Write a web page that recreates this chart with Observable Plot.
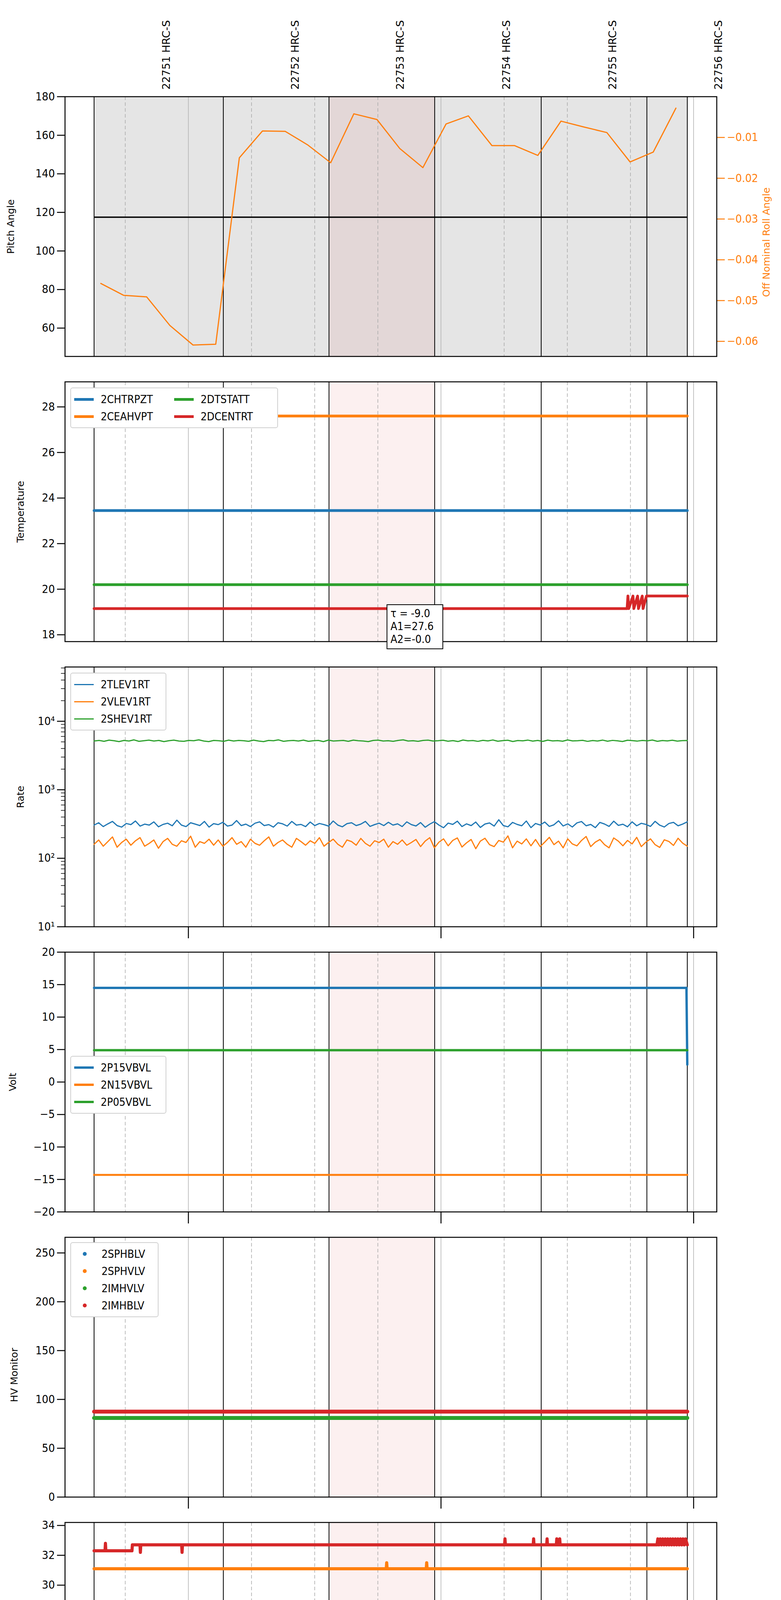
<!DOCTYPE html>
<html><head><meta charset="utf-8">
<script src="https://cdn.jsdelivr.net/npm/d3@7"></script>
<script src="https://cdn.jsdelivr.net/npm/@observablehq/plot@0.6"></script>
<style>
html,body{margin:0;background:#fff;width:2000px;height:5400px;overflow:hidden;}
#wrap{position:relative;width:2000px;height:5400px;overflow:hidden;font-family:"DejaVu Sans Condensed","Liberation Sans Narrow","DejaVu Sans",sans-serif;}
.pl{position:absolute;left:0;overflow:visible;}
.lbl{position:absolute;font-family:"DejaVu Sans",sans-serif;font-size:25px;white-space:nowrap;}
.leg{position:absolute;background:#fff;border:2px solid #d0d0d0;border-radius:6px;font-size:28px;padding:6px 8px;box-sizing:border-box;}
.li{display:flex;align-items:center;height:44px;}
.sw{width:50px;margin-right:18px;}
.dot{width:10px;height:10px;border-radius:50%;margin:0 38px 0 22px;}
</style></head>
<body><div id="wrap"></div>
<script>
// ---- time in minutes after 09:00 UTC, 2020-11-02 ----
const xDomain = [30.7, 185.5];
const obsBounds = [37.6, 68.3, 93.4, 118.5, 143.8, 168.9, 178.5];
const obsLabels = ["22751 HRC-S","22752 HRC-S","22753 HRC-S","22754 HRC-S","22755 HRC-S","22756 HRC-S"];
const obsLabelPos = [53.8, 84.4, 109.4, 134.6, 159.8, 185.0];
const hourTicks = [60, 120, 180];
const hourLabels = ["10h","11h","12h"];
const minorTicks = [45, 75, 90, 105, 135, 150, 165];
const minorLabels = ["45","15","30","45","15","30","45"];

// Panel 1
const pitchLevel = 117.5;
const rollT = [39.2,44.6,50.1,55.6,61.1,66.5,72.1,77.6,83.0,88.3,93.8,99.3,104.8,110.2,115.7,121.2,126.5,132.1,137.5,143.0,148.5,153.8,159.4,164.9,170.4,175.8];
const rollV = [-0.0458,-0.0487,-0.0491,-0.0561,-0.0609,-0.0607,-0.0150,-0.0084,-0.0085,-0.0118,-0.0162,-0.0042,-0.0056,-0.0127,-0.0174,-0.0067,-0.0047,-0.0120,-0.0120,-0.0144,-0.0060,-0.0074,-0.0088,-0.0160,-0.0136,-0.0028];
const rollTicks = [-0.01,-0.02,-0.03,-0.04,-0.05,-0.06];

// Panel 2 Temperature
const tempNames = ["2CHTRPZT","2CEAHVPT","2DTSTATT","2DCENTRT"];
const t2CHTRPZT = [[37.6,23.45],[178.5,23.45]];
const t2CEAHVPT = [[37.6,27.6],[178.5,27.6]];
const t2DTSTATT = [[37.6,20.2],[178.5,20.2]];
const t2DCENTRT = [[37.6,19.15],[164.2,19.15],[164.4,19.7],[164.6,19.15],[165.6,19.7],[165.8,19.15],[166.7,19.7],[166.9,19.15],[167.8,19.7],[168.0,19.15],[168.8,19.7],[178.5,19.7]];

// Panel 3 Rate (samples evenly spaced from 37.6 to 178.5)
const rateNames = ["2TLEV1RT","2VLEV1RT","2SHEV1RT"];
const r2TLEV1RT = [305,330,290,318,345,300,285,322,310,350,295,315,305,340,288,312,325,298,360,305,290,330,315,300,345,285,320,310,335,295,305,355,300,315,290,325,340,300,310,285,330,318,295,345,305,312,290,338,300,322,310,295,350,305,288,320,330,300,315,345,292,310,325,300,335,305,318,290,340,310,
  296,332,284,315,342,305,279,326,312,348,290,318,300,338,282,316,328,295,365,300,288,334,312,298,350,280,322,306,338,292,308,352,296,318,286,328,344,298,312,280,334,316,292,348,302,314,288,340,298,324,312,292,346,304,286,322,334,298,316,340];
const r2VLEV1RT = [160,185,150,175,205,145,170,190,155,180,200,150,165,185,140,175,195,160,150,180,170,210,145,175,165,190,155,185,150,170,200,160,175,145,190,165,155,180,205,150,170,185,160,145,195,175,155,180,165,200,150,170,190,160,145,185,175,155,195,165,150,180,170,190,145,175,160,185,155,170,
  188,148,178,200,142,172,192,152,182,198,146,168,188,138,178,196,158,148,182,172,212,142,178,162,192,152,188,148,172,202,158,178,142,192,162,152,182,208,148,172,188,158,142,198,178,152,182,162,202,148,172,192,158,144,186,176,154,196,166,150];
const r2SHEV1RT = [5150,5250,5100,5300,5200,5050,5250,5150,5350,5100,5200,5300,5150,5250,5050,5200,5300,5150,5100,5250,5200,5350,5150,5050,5250,5200,5100,5300,5150,5250,5200,5100,5300,5150,5050,5250,5200,5350,5100,5200,5250,5150,5300,5100,5200,5250,5050,5300,5150,5200,5250,5100,5300,5200,5150,5050,5250,5300,5150,5200,5100,5250,5350,5150,5200,5100,5250,5300,5150,5200,
  5280,5120,5220,5060,5320,5180,5240,5090,5270,5160,5330,5110,5210,5290,5070,5230,5190,5310,5130,5250,5080,5300,5170,5220,5120,5340,5160,5200,5270,5090,5230,5150,5310,5110,5260,5180,5060,5290,5210,5140,5250,5190,5320,5100,5230,5170,5280,5130,5210,5240];

// Panel 4 Volt
const voltNames = ["2P15VBVL","2N15VBVL","2P05VBVL"];
const v2P15VBVL = [[37.6,14.5],[178.3,14.5],[178.5,2.7]];
const v2N15VBVL = [[37.6,-14.3],[178.5,-14.3]];
const v2P05VBVL = [[37.6,4.9],[178.5,4.9]];

// Panel 5 HV monitor
const hvNames = ["2SPHBLV","2SPHVLV","2IMHVLV","2IMHBLV"];
const h2IMHVLV = [[37.6,81],[178.5,81]];
const h2IMHBLV = [[37.6,87.5],[178.5,87.5]];

// Panel 6 Detector temp
const detNames = ["2SPINATM","2SPHVATM","2IMINATM","2IMHVATM"];
const d2SPINATM = [[37.6,18.28],[178.5,18.28]];
const d2SPHVATM = [[37.6,31.1],[107.0,31.1],[107.1,31.5],[107.2,31.1],[116.5,31.1],[116.6,31.5],[116.7,31.1],[178.5,31.1]];
const d2IMINATM = [[37.6,19.6],[51.3,19.6],[51.4,20.3],[51.5,19.6],[58.7,19.6],[58.8,20.3],[58.9,19.6],[60.9,19.6],[61.0,20.3],[61.1,19.6],[62.7,19.6],[62.8,20.3],[63.3,19.6],[63.6,20.3],[64.0,19.6],[64.3,20.3],[64.7,19.6],[65.0,20.3],[65.4,19.6],[65.8,20.3],[66.2,19.6],[66.6,20.3],[67.1,19.6],[67.5,20.3],[68.0,19.6],[68.5,20.3],[69.1,19.6],[69.6,20.3],[70.3,19.6],[70.9,20.3],[72.0,19.6],[72.6,20.3],[74.6,19.6],[74.9,20.3],[75.4,19.6],[75.7,20.3],[178.5,20.3]];
const d2IMHVATM = [[37.6,32.3],[40.2,32.3],[40.3,32.8],[40.4,32.3],[46.6,32.3],[46.7,32.7],[48.5,32.7],[48.6,32.2],[48.7,32.7],[58.4,32.7],[58.5,32.2],[58.6,32.7],[135.1,32.7],[135.2,33.1],[135.3,32.7],[141.9,32.7],[142.0,33.1],[142.1,32.7],[145.1,32.7],[145.2,33.1],[145.3,32.7],[147.4,32.7],[147.5,33.1],[147.6,32.7],[148.1,32.7],[148.2,33.1],[148.3,32.7],[171.3,32.7],[171.5,33.1],[171.8,32.7],[172.1,33.1],[172.4,32.7],[172.7,33.1],[173.0,32.7],[173.3,33.1],[173.6,32.7],[173.9,33.1],[174.2,32.7],[174.5,33.1],[174.8,32.7],[175.1,33.1],[175.4,32.7],[175.7,33.1],[176.0,32.7],[176.3,33.1],[176.6,32.7],[176.9,33.1],[177.2,32.7],[177.5,33.1],[177.8,32.7],[178.1,33.1],[178.5,32.7]];

// Panel 7 FEA temp
const feaNames = ["2FHTRMZT","2FRADPYT","2FEPRATM","2FE00ATM"];
const f2FHTRMZT = [[37.6,22.92],[37.8,23.5],[38.1,22.92],[38.4,23.5],[38.7,22.92],[39.0,23.5],[39.3,22.92],[39.6,23.5],[39.9,22.92],[40.2,23.5],[40.5,22.92],[178.5,22.92]];
const f2FRADPYT = [[37.6,18.65],[137.8,18.65],[137.9,18.15],[138.0,18.65],[141.6,18.65],[141.7,18.15],[141.8,18.65],[145.6,18.65],[145.8,18.15],[146.4,18.65],[146.8,18.15],[147.2,18.65],[147.4,18.15],[151.7,18.15],[151.8,18.65],[151.9,18.15],[178.5,18.15]];
const f2FEPRATM = [[37.6,24.62],[178.5,24.62]];
const f2FE00ATM = [[37.6,22.98],[41.7,22.98],[41.8,22.3],[41.9,22.98],[48.0,22.98],[48.1,23.3],[48.2,22.98],[58.9,22.98],[59.0,22.3],[59.1,22.98],[64.1,22.98],[64.2,22.0],[64.3,22.98],[67.0,22.98],[67.1,21.4],[67.2,22.98],[67.6,22.98],[67.7,23.3],[67.8,22.98],[68.8,22.98],[68.9,22.65],[69.0,22.98],[70.0,22.98],[70.1,22.65],[70.2,22.98],[74.3,22.98],[74.4,22.65],[74.5,22.98],[75.3,22.98],[75.4,22.65],[75.5,22.98],[80.1,22.98],[80.2,22.65],[80.3,22.98],[86.3,22.98],[86.4,21.7],[86.5,22.98],[87.8,22.98],[87.9,22.65],[88.0,22.98],[113.2,22.98],[113.3,22.65],[113.4,22.98],[117.5,22.98],[117.8,22.65],[118.1,22.98],[118.4,22.65],[118.7,22.98],[119.0,22.65],[119.3,22.98],[119.6,22.65],[119.9,22.98],[120.2,22.65],[120.5,22.98],[120.8,22.65],[121.1,22.98],[121.4,22.65],[121.7,22.98],[122.0,22.65],[122.3,22.98],[122.6,22.65],[122.9,22.98],[123.2,22.65],[123.5,22.98],[123.8,22.65],[124.1,22.98],[124.4,22.65],[124.7,22.98],[125.0,22.65],[125.3,22.98],[125.6,22.65],[125.9,22.98],[126.2,22.65],[126.5,22.98],[126.8,22.65],[127.1,22.98],[127.4,22.65],[127.7,22.98],[128.0,22.65],[128.3,22.98],[128.6,22.65],[128.9,22.98],[129.2,22.65],[129.5,22.98],[129.8,22.65],[130.1,22.98],[130.4,22.65],[130.7,22.98],[131.0,22.65],[131.6,22.98],[131.9,22.65],[132.5,22.98],[132.8,22.65],[133.3,22.98],[133.5,22.65],[137.0,22.65],[137.1,23.6],[137.2,22.65],[140.3,22.65],[140.4,22.3],[140.5,22.65],[145.7,22.65],[145.8,23.3],[145.9,22.65],[152.8,22.65],[152.9,23.0],[153.0,22.65],[162.2,22.65],[162.3,22.3],[162.4,22.65],[162.9,22.65],[163.0,23.0],[163.1,22.65],[168.9,22.65],[169.0,23.0],[169.1,22.65],[170.0,22.65],[170.1,22.3],[170.2,22.65],[175.4,22.65],[175.5,23.6],[175.6,22.65],[175.9,22.65],[176.0,23.3],[176.1,22.65],[178.5,22.65]];

const colors = ["#1f77b4","#ff7f0e","#2ca02c","#d62728"];

// ---- helpers ----
const base = Date.UTC(2020,10,2,9,0,0);
const tm = m => new Date(base + m*60000);
const pts = (arr) => arr.map(([t,v]) => ({t: tm(t), v}));
const even = (vals) => vals.map((v,i) => ({t: tm(37.6 + i*(178.5-37.6)/(vals.length-1)), v}));
const wrap = document.getElementById("wrap");
const PH = 665, PITCH = 730, TOP0 = 247;
const panelTop = i => TOP0 + PITCH*i;
const FONT = '"DejaVu Sans Condensed","Liberation Sans Narrow","DejaVu Sans",sans-serif';
const minPerPx = (xDomain[1]-xDomain[0])/(2000-166-165);

// y value that lies px pixels below the bottom of the frame
function yBelow(o, px){
  const [a,b] = o.ydomain;
  if (o.ytype === "log"){ const la=Math.log10(a), lb=Math.log10(b); return Math.pow(10, la - (lb-la)*px/PH); }
  return a - (b-a)*px/PH;
}
function bgMarks(grey){
  const m = [];
  if (grey) m.push(Plot.rectX([0],{x1:()=>tm(obsBounds[0]),x2:()=>tm(obsBounds[6]),fill:"#e5e5e5"}));
  m.push(Plot.rectX([0],{x1:()=>tm(obsBounds[2]),x2:()=>tm(obsBounds[3]),fill:"#d62728",fillOpacity:0.07}));
  m.push(Plot.ruleX(hourTicks.map(tm),{stroke:"#b0b0b0",strokeWidth:1.5}));
  m.push(Plot.ruleX(minorTicks.map(tm),{stroke:"#a8a8a8",strokeWidth:1.5,strokeDasharray:"9,6"}));
  m.push(Plot.ruleX(obsBounds.map(tm),{stroke:"#000",strokeWidth:2}));
  return m;
}
function makePanel(i, o){
  const mt = i===0 ? TOP0 : 30;
  const mb = i===6 ? (5400 - panelTop(6) - PH) : (PITCH-PH-30);
  const marks = [
    ...bgMarks(o.grey),
    ...o.marks,
    Plot.axisY({ticks:o.yticks, tickFormat:o.yfmt, tickSize:20, tickPadding:6, strokeWidth:2.5, fontSize:29, label:null}),
    ...(o.extraAxes||[]),
    Plot.frame({stroke:"#000",strokeWidth:2.5})
  ];
  if (o.hourTicks) marks.push(Plot.ruleX(hourTicks.map(tm),{y1:o.ydomain[0], y2:yBelow(o,30), stroke:"#000", strokeWidth:2.5, clip:false}));
  if (i===6){
    marks.push(Plot.axisX({ticks:minorTicks.map(tm), tickSize:12, strokeWidth:2, tickPadding:10, fontSize:21, tickFormat:(d,k)=>minorLabels[k], label:null}));
  }
  const p = Plot.plot({
    width:2000, height: mt + PH + mb,
    marginTop: mt, marginBottom: mb, marginLeft: 166, marginRight: 165,
    style:{fontFamily:FONT, fontSize:"28px", background:"transparent", overflow:"visible"},
    x:{type:"utc", domain: xDomain.map(tm), axis:null},
    y:{type:o.ytype||"linear", domain:o.ydomain, axis:null},
    marks
  });
  p.classList.add("pl");
  p.style.top = (panelTop(i) - mt) + "px";
  wrap.appendChild(p);
}
function label(text, x, y, rot, extra){
  const d = document.createElement("div");
  d.className = "lbl"; d.textContent = text;
  d.style.left = x+"px"; d.style.top = y+"px";
  d.style.transform = `translate(-50%,-50%) rotate(${rot||0}deg)`;
  if (extra) Object.assign(d.style, extra);
  wrap.appendChild(d);
  return d;
}
function legend(x,y,w,names,opts={}){
  const d = document.createElement("div");
  d.className = "leg"; d.style.left = x+"px"; d.style.top = y+"px"; d.style.width = w+"px";
  const cols = opts.cols||1;
  d.style.display = "grid"; d.style.gridTemplateColumns = `repeat(${cols},auto)`; d.style.gridAutoFlow = cols>1 ? "column" : "row";
  if (cols>1) d.style.gridTemplateRows = "repeat(2,auto)";
  names.forEach((n,k)=>{
    const it = document.createElement("div"); it.className = "li";
    const s = document.createElement("div");
    if (opts.dot){ s.className="dot"; s.style.background = colors[k]; }
    else { s.className="sw"; s.style.height = (opts.lw||7)+"px"; s.style.background = colors[k]; }
    it.appendChild(s);
    const t = document.createElement("span"); t.textContent = n; t.style.fontFamily = FONT;
    it.appendChild(t); d.appendChild(it);
  });
  wrap.appendChild(d);
}
const lineM = (data, k, w) => Plot.line(data,{x:"t",y:"v",stroke:colors[k],strokeWidth:w});

// ---- Panel 1 ----
const pDom = [45.3, 180], rDom = [-0.0637, 0];
const r2p = r => pDom[0] + (r - rDom[0])/(rDom[1]-rDom[0])*(pDom[1]-pDom[0]);
const p2r = p => rDom[0] + (p - pDom[0])/(pDom[1]-pDom[0])*(rDom[1]-rDom[0]);
const rollData = rollT.map((t,k)=>({t:tm(t), v:r2p(rollV[k])}));
makePanel(0,{grey:true, ydomain:pDom, yticks:[60,80,100,120,140,160,180],
  marks:[
    Plot.ruleY([pitchLevel],{x1:()=>tm(obsBounds[0]),x2:()=>tm(obsBounds[6]),stroke:"#000",strokeWidth:3.5}),
    Plot.line(rollData,{x:"t",y:"v",stroke:colors[1],strokeWidth:3}),
    Plot.text(obsLabels,{x:(d,k)=>tm(obsLabelPos[k]), frameAnchor:"top", dy:-18, rotate:-90, textAnchor:"start",
      text:d=>d, fontSize:27, fontFamily:"DejaVu Sans", fontWeight:(d,k)=>k===2?"bold":"normal", fill:"#000"})
  ],
  extraAxes:[Plot.axisY({anchor:"right", ticks:rollTicks.map(r2p), tickFormat:p=>"−"+Math.abs(p2r(p)).toFixed(2), tickSize:20, tickPadding:6, strokeWidth:2.5, stroke:colors[1], fill:colors[1], color:colors[1], fontSize:29, label:null})]
});
label("Pitch Angle", 27, panelTop(0)+PH/2, -90);
label("Off Nominal Roll Angle", 1962, panelTop(0)+PH/2+40, -90, {color:colors[1]});

// ---- Panel 2 ----
makePanel(1,{ydomain:[17.7,29.1], yticks:[18,20,22,24,26,28],
  marks:[lineM(pts(t2CHTRPZT),0,7),lineM(pts(t2CEAHVPT),1,7),lineM(pts(t2DTSTATT),2,7),lineM(pts(t2DCENTRT),3,7)]});
label("Temperature", 52, panelTop(1)+PH/2, -90);
legend(180, panelTop(1)+15, 532, tempNames, {cols:2});
{
  const b = document.createElement("div");
  b.style.cssText = `position:absolute;left:990px;top:${panelTop(1)+570}px;width:145px;height:115px;background:#fff;border:2px solid #000;box-sizing:border-box;font-family:${FONT};font-size:28px;line-height:33px;padding:5px 8px;`;
  b.innerHTML = "τ = -9.0<br>A1=27.6<br>A2=-0.0";
  wrap.appendChild(b);
}

// ---- Panel 3 ----
const sup = {1:"¹",2:"²",3:"³",4:"⁴"};
const logMinor = [];
[10,100,1000,10000].forEach(b=>{for(let k=2;k<=9;k++){ if(b*k<62000) logMinor.push(b*k);} });
makePanel(2,{ydomain:[10,62000], ytype:"log", yticks:[10,100,1000,10000], yfmt:d=>"10"+sup[Math.round(Math.log10(d))], hourTicks:true,
  marks:[lineM(even(r2TLEV1RT),0,3),lineM(even(r2VLEV1RT),1,3),lineM(even(r2SHEV1RT),2,3)],
  extraAxes:[Plot.ruleY(logMinor,{x1:()=>tm(xDomain[0]), x2:()=>tm(xDomain[0]-10*minPerPx), stroke:"#000", strokeWidth:1.5, clip:false})]});
label("Rate", 52, panelTop(2)+PH/2, -90);
legend(180, panelTop(2)+15, 246, rateNames, {lw:3});

// ---- Panel 4 ----
makePanel(3,{ydomain:[-20,20], yticks:[-20,-15,-10,-5,0,5,10,15,20], hourTicks:true,
  marks:[lineM(pts(v2P15VBVL),0,6),lineM(pts(v2N15VBVL),1,5),lineM(pts(v2P05VBVL),2,6)]});
label("Volt", 32, panelTop(3)+PH/2, -90);
legend(180, panelTop(3)+266, 246, voltNames, {lw:6});

// ---- Panel 5 ----
makePanel(4,{ydomain:[0,266], yticks:[0,50,100,150,200,250], hourTicks:true,
  marks:[lineM(pts(h2IMHVLV),2,10),lineM(pts(h2IMHBLV),3,10)]});
label("HV Monitor", 36, panelTop(4)+PH/2+20, -90);
legend(180, panelTop(4)+13, 226, hvNames, {dot:true});

// ---- Panel 6 ----
makePanel(5,{ydomain:[16.8,34.2], yticks:[18,20,22,24,26,28,30,32,34], hourTicks:true,
  marks:[lineM(pts(d2SPINATM),0,8),lineM(pts(d2SPHVATM),1,8),lineM(pts(d2IMINATM),2,8),lineM(pts(d2IMHVATM),3,8)]});
label("Detector Temp", 24, panelTop(5)+PH/2+20, -90);
legend(180, panelTop(5)+245, 250, detNames, {lw:9});

// ---- Panel 7 ----
makePanel(6,{ydomain:[17.16,26.12], yticks:[18,19,20,21,22,23,24,25,26], hourTicks:false,
  marks:[lineM(pts(f2FEPRATM),2,8),lineM(pts(f2FHTRMZT),0,8),lineM(pts(f2FRADPYT),1,8),lineM(pts(f2FE00ATM),3,7),
    Plot.axisX({ticks:hourTicks.map(tm), tickSize:30, strokeWidth:2.5, tickPadding:8, fontSize:28, tickFormat:(d,k)=>hourLabels[k], label:null})]});
label("FEA Temp", 36, panelTop(6)+PH/2+20, -90);
legend(180, panelTop(6)+240, 252, feaNames, {lw:9});
label("2020-11-02 (307)", 1000, 5382, 0, {fontFamily:FONT, fontSize:"32px"});
</script></body></html>
